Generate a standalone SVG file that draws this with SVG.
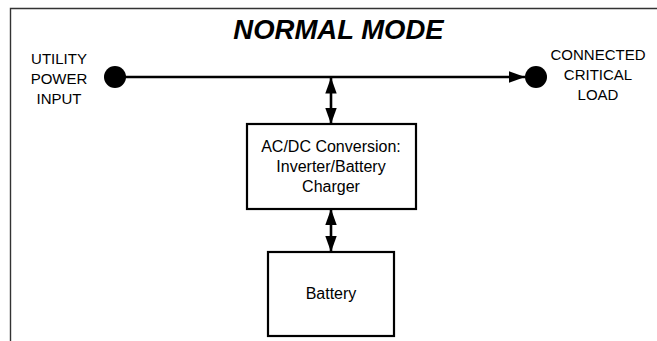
<svg xmlns="http://www.w3.org/2000/svg" width="657" height="341" viewBox="0 0 657 341">
<style>
text{font-family:"Liberation Sans",Arial,sans-serif;fill:#000;text-anchor:middle}
.lbl{font-size:15px}
.box{fill:#fff;stroke:#000;stroke-width:2.2}
.conn{stroke:#000;stroke-width:2.6;fill:none}
.title{font-size:27.5px;font-weight:bold;font-style:italic}
.bt{font-size:16px}
</style>
<defs>
<marker id="ah" markerUnits="userSpaceOnUse" markerWidth="16" markerHeight="12" refX="14" refY="5" orient="auto-start-reverse" viewBox="0 0 14 10">
<path d="M0,0 L14,5 L0,10 Z" fill="#000"/>
</marker>
</defs>
<rect width="657" height="341" fill="#fff"/>
<path d="M10.5,341 V8.5 H657" fill="none" stroke="#333" stroke-width="1.4"/>
<text class="title" x="338.5" y="39">NORMAL MODE</text>
<g id="connectors">
<line class="conn" x1="115" y1="77" x2="525" y2="77" marker-end="url(#ah)"/>
<line class="conn" x1="331" y1="77.5" x2="331" y2="124" marker-start="url(#ah)" marker-end="url(#ah)"/>
<line class="conn" x1="331" y1="209" x2="331" y2="252" marker-start="url(#ah)" marker-end="url(#ah)"/>
</g>
<g id="utility">
<circle cx="115" cy="77" r="11" fill="#000"/>
<text class="lbl" x="59" y="64">UTILITY</text>
<text class="lbl" x="59" y="84">POWER</text>
<text class="lbl" x="59" y="104">INPUT</text>
</g>
<g id="load">
<circle cx="536" cy="77" r="11" fill="#000"/>
<text class="lbl" x="598" y="60">CONNECTED</text>
<text class="lbl" x="598" y="80">CRITICAL</text>
<text class="lbl" x="598" y="100">LOAD</text>
</g>
<g id="converter">
<rect class="box" x="247" y="124" width="169" height="85"/>
<text class="bt" x="331" y="152">AC/DC Conversion:</text>
<text class="bt" x="331" y="172">Inverter/Battery</text>
<text class="bt" x="331" y="192">Charger</text>
</g>
<g id="battery">
<rect class="box" x="268" y="252" width="126" height="84"/>
<text class="bt" x="331" y="299">Battery</text>
</g>
</svg>
